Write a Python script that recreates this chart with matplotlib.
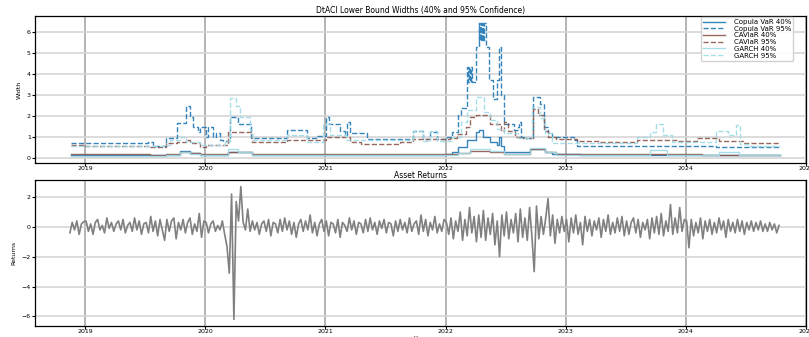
import numpy as np
import pandas as pd
import matplotlib
matplotlib.use('Agg')
import matplotlib.pyplot as plt
import matplotlib.dates as mdates

plt.rcParams['font.family'] = ['DejaVu Sans']

# DtACI lower bound widths (date, width)
copula40_dates = ['2018-11-20', '2019-09-03', '2019-10-16', '2019-11-16', '2019-12-17', '2020-03-10',
                  '2020-05-23', '2022-01-01', '2022-01-22', '2022-02-09', '2022-03-07', '2022-04-05',
                  '2022-04-13', '2022-04-24', '2022-05-17', '2022-06-07', '2022-06-14', '2022-06-18',
                  '2022-06-28', '2022-09-16', '2022-10-31', '2022-11-22', '2023-02-15', '2024-10-15']
copula40_vals = [0.12, 0.15, 0.33, 0.22, 0.15, 0.29, 0.15, 0.18, 0.30, 0.52, 0.84, 1.24,
                 1.32, 1.00, 0.76, 0.60, 1.00, 0.55, 0.30, 0.45, 0.30, 0.18, 0.13, 0.13]

copula95_dates = ['2018-11-20', '2019-07-10', '2019-07-26', '2019-09-03', '2019-10-08', '2019-11-03',
                  '2019-11-16', '2019-11-25', '2019-12-10', '2019-12-17', '2020-01-04', '2020-01-10',
                  '2020-01-25', '2020-02-03', '2020-02-16', '2020-02-24', '2020-03-17', '2020-04-10',
                  '2020-05-20', '2020-09-07', '2020-11-06', '2020-12-04', '2021-01-04', '2021-01-11',
                  '2021-02-15', '2021-02-28', '2021-03-08', '2021-03-17', '2021-05-08', '2021-09-25',
                  '2021-10-26', '2021-11-15', '2021-12-07', '2022-01-07', '2022-01-22', '2022-02-09',
                  '2022-02-18', '2022-03-07', '2022-03-10', '2022-03-13', '2022-03-16', '2022-03-19',
                  '2022-03-22', '2022-04-04', '2022-04-12', '2022-04-14', '2022-04-16', '2022-04-18',
                  '2022-04-20', '2022-04-22', '2022-04-24', '2022-04-26', '2022-04-28', '2022-05-03',
                  '2022-05-12', '2022-05-24', '2022-06-07', '2022-06-14', '2022-06-18', '2022-06-28',
                  '2022-07-27', '2022-08-08', '2022-08-12', '2022-08-17', '2022-08-27', '2022-09-24',
                  '2022-10-16', '2022-10-27', '2022-11-10', '2022-11-22', '2023-01-26', '2023-02-06',
                  '2024-04-01', '2024-10-15']
copula95_vals = [0.72, 0.76, 0.55, 0.97, 1.65, 2.46, 1.95, 1.48, 1.24, 1.48, 1.00, 1.48,
                 1.00, 1.20, 0.87, 0.80, 1.95, 1.64, 0.97, 1.32, 0.95, 1.05, 1.95, 1.60,
                 1.30, 1.10, 1.70, 1.20, 0.92, 1.30, 0.92, 1.25, 0.92, 0.98, 1.25, 2.05,
                 2.40, 4.33, 3.60, 4.33, 3.60, 4.33, 3.60, 5.29, 6.45, 5.60, 6.45, 5.60,
                 6.45, 5.60, 6.45, 5.60, 6.45, 5.29, 3.70, 2.83, 3.70, 5.30, 3.00, 1.64,
                 1.35, 1.48, 1.70, 1.00, 0.95, 2.90, 2.59, 1.48, 1.20, 0.98, 0.85, 0.57,
                 0.53, 0.53]

caviar40_dates = ['2018-11-20', '2019-07-17', '2019-09-03', '2019-10-16', '2019-11-16', '2019-12-17',
                  '2020-03-10', '2020-05-23', '2022-01-01', '2022-02-09', '2022-03-17', '2022-05-17',
                  '2022-06-28', '2022-09-16', '2022-10-31', '2022-12-03', '2023-08-15', '2024-02-20',
                  '2024-10-15']
caviar40_vals = [0.20, 0.15, 0.20, 0.30, 0.25, 0.18, 0.30, 0.18, 0.17, 0.25, 0.35, 0.30,
                 0.20, 0.45, 0.30, 0.18, 0.20, 0.16, 0.16]

caviar95_dates = ['2018-11-20', '2018-12-25', '2019-07-17', '2019-09-03', '2019-10-08', '2019-11-03',
                  '2019-11-16', '2019-12-17', '2020-01-04', '2020-03-10', '2020-05-23', '2020-09-07',
                  '2021-01-04', '2021-03-17', '2021-04-20', '2021-08-16', '2021-09-25', '2022-01-15',
                  '2022-02-06', '2022-03-05', '2022-03-17', '2022-04-05', '2022-05-17', '2022-06-18',
                  '2022-06-28', '2022-07-11', '2022-08-01', '2022-08-17', '2022-09-24', '2022-10-08',
                  '2022-10-27', '2022-11-10', '2022-12-03', '2023-02-06', '2023-04-16', '2023-08-07',
                  '2023-12-05', '2024-02-06', '2024-04-10', '2024-06-24', '2024-10-15']
caviar95_vals = [0.62, 0.55, 0.52, 0.70, 0.76, 0.84, 0.70, 0.52, 0.60, 1.24, 0.76, 0.84,
                 1.00, 0.76, 0.69, 0.77, 0.90, 0.97, 1.16, 1.48, 1.95, 2.03, 1.60, 1.30,
                 1.74, 1.30, 1.00, 0.95, 2.35, 2.03, 1.31, 0.98, 0.90, 0.83, 0.76, 0.85,
                 0.79, 0.97, 0.79, 0.71, 0.71]

garch40_dates = ['2018-11-20', '2019-09-03', '2019-10-16', '2019-11-16', '2019-12-17', '2020-03-10',
                 '2020-04-10', '2020-05-23', '2022-01-01', '2022-02-09', '2022-03-17', '2022-05-17',
                 '2022-06-28', '2022-09-16', '2022-10-31', '2022-12-03', '2023-09-16', '2023-11-06',
                 '2024-04-10', '2024-06-10', '2024-10-15']
garch40_vals = [0.08, 0.12, 0.28, 0.20, 0.12, 0.45, 0.29, 0.12, 0.12, 0.25, 0.45, 0.35,
                0.20, 0.50, 0.30, 0.12, 0.37, 0.15, 0.30, 0.12, 0.12]

garch95_dates = ['2018-11-20', '2019-09-03', '2019-09-16', '2019-10-19', '2019-11-03', '2019-12-17',
                 '2020-03-01', '2020-03-17', '2020-04-05', '2020-04-16', '2020-05-17', '2020-05-23',
                 '2020-09-07', '2020-11-06', '2020-12-24', '2021-01-15', '2021-03-03', '2021-09-25',
                 '2021-10-26', '2021-11-15', '2021-12-07', '2022-01-22', '2022-02-18', '2022-03-07',
                 '2022-04-04', '2022-04-27', '2022-05-17', '2022-06-07', '2022-06-28', '2022-08-08',
                 '2022-09-20', '2022-10-16', '2022-10-31', '2022-11-22', '2023-08-07', '2023-09-16',
                 '2023-10-03', '2023-10-24', '2023-11-22', '2024-04-01', '2024-05-08', '2024-06-03',
                 '2024-06-15', '2024-07-10', '2024-10-15']
garch95_vals = [0.57, 0.62, 0.84, 1.00, 0.76, 0.60, 0.80, 2.88, 2.46, 1.95, 1.32, 0.85,
                1.10, 0.75, 1.64, 1.10, 0.85, 1.30, 0.80, 1.30, 0.80, 1.00, 1.70, 2.30,
                2.90, 2.20, 1.80, 1.40, 1.20, 0.95, 2.43, 1.90, 1.20, 0.70, 1.00, 1.24,
                1.64, 1.10, 0.76, 1.30, 1.10, 1.56, 0.69, 0.56, 0.56]

# weekly asset returns, Nov 2018 - Oct 2024
returns_start = '2018-11-16'
returns_end = '2024-10-11'
returns = [
    # 2018
    -0.4, 0.3, -0.2, 0.4, -0.5, 0.2, 0.35,
    # 2019
    0.4, -0.3, 0.2, -0.5, 0.3, 0.5, -0.2, 0.1, -0.4, 0.6, -0.1, 0.3, -0.3, 0.2, 0.4, -0.2,
    0.5, -0.4, 0.1, 0.3, -0.3, 0.6, -0.2, 0.4, -0.5, 0.2, 0.3, -0.4, 0.7, -0.3, 0.4, -0.6,
    0.5, -0.2, -0.9, 0.5, -0.3, 0.4, 0.6, -0.8, 0.3, -0.2, 0.5, -0.4, 0.3, 0.6, -0.5, 0.2,
    -0.3, 0.9, -0.7, 0.4,
    # 2020
    0.3, -0.4, 0.2, 0.4, -0.3, 0.1, -0.2, 0.4, -0.5, -1.3, -3.1, 2.2, -6.2, 1.7, 0.4, 2.7,
    0.3, -0.2, 1.2, -0.3, 0.4, -0.2, 0.3, -0.5, 0.2, 0.4, -0.3, 0.5, -0.6, 0.3, 0.2, -0.4,
    0.5, -0.3, 0.6, -0.2, 0.4, -0.5, 0.3, -0.7, 0.2, 0.5, -0.3, 0.4, -0.2, 0.8, -0.4, 0.3,
    -0.6, 0.2, 0.5, -0.3,
    # 2021
    0.4, -0.6, 0.3, 0.2, -0.4, 0.5, -0.7, 0.3, 0.1, -0.3, 0.6, -0.2, 0.4, -0.5, 0.3, 0.2,
    -0.4, 0.5, -0.3, 0.6, -0.2, 0.3, -0.5, 0.4, -0.1, 0.5, -0.4, 0.3, 0.2, -0.6, 0.4, -0.3,
    0.5, -0.2, 0.3, -0.4, 0.6, -0.3, 0.2, 0.4, -0.5, 0.8, -0.3, 0.5, -0.6, 0.3, -0.2, 0.7,
    -0.4, 0.2, -0.3, 0.5,
    # 2022
    0.3, -0.5, 0.6, -0.8, 0.4, -0.3, 1.0, -0.9, 0.5, -0.6, 1.3, -0.4, 0.7, -1.0, 0.8, -0.7,
    1.1, -0.9, 0.6, -0.5, 0.9, -1.2, 0.4, -2.0, 0.8, -0.6, 1.0, -0.8, 0.5, -0.4, 0.9, -1.0,
    1.2, -0.7, 0.6, -0.9, 1.3, -0.6, -3.0, 1.4, -0.8, 0.7, -0.5, 0.6, 1.9, -0.6, 0.8, -1.1,
    0.5, -0.4, 0.7, -0.3,
    # 2023
    0.5, -1.0, 0.6, -0.4, 0.8, -0.5, 0.3, -1.2, 0.7, -0.3, 0.5, -0.6, 0.4, -0.2, 0.6, -0.7,
    0.5, -0.3, 0.8, -0.5, 0.3, -0.4, 0.6, -0.3, 0.7, -0.6, 0.4, -0.5, 0.3, 0.6, -0.4, 0.5,
    -0.7, 0.3, -0.2, 0.5, -0.8, 0.6, -0.4, 0.7, -0.5, 0.9, -0.6, 0.4, -0.3, 1.5, -0.5, 0.6,
    -0.4, 1.3, -0.3, 0.5,
    # 2024
    0.4, -1.4, 0.5, -0.6, 0.3, -0.4, 0.6, -0.8, 0.4, -0.3, 0.5, -0.5, 0.3, -0.4, 0.6, -0.2,
    0.4, -0.7, 0.5, -0.3, 0.3, -0.4, 0.5, -0.3, 0.4, -0.5, 0.3, -0.2, 0.4, -0.3, 0.3, -0.2,
    0.4, -0.3, 0.2, -0.3, 0.3, -0.2, 0.2, -0.4, 0.1,
]

series = [
    ('Copula VaR 40%', copula40_dates, copula40_vals, '#1f77b4', '-'),
    ('Copula VaR 95%', copula95_dates, copula95_vals, '#1f77b4', '--'),
    ('CAViaR 40%', caviar40_dates, caviar40_vals, '#8c564b', '-'),
    ('CAViaR 95%', caviar95_dates, caviar95_vals, '#8c564b', '--'),
    ('GARCH 40%', garch40_dates, garch40_vals, '#9edae5', '-'),
    ('GARCH 95%', garch95_dates, garch95_vals, '#9edae5', '--'),
]

fig = plt.figure(figsize=(8.09, 3.37), dpi=100)
ax1 = fig.add_axes([0.0433, 0.5163, 0.9530, 0.4362])
ax2 = fig.add_axes([0.0433, 0.0326, 0.9530, 0.4333])

for name, d, v, c, ls in series:
    ax1.plot(pd.to_datetime(d), v, drawstyle='steps-post', color=c, linestyle=ls,
             linewidth=1.0, alpha=0.9, label=name)

ret_dates = pd.date_range(returns_start, returns_end, periods=len(returns))
ax2.plot(ret_dates, returns, color='gray', linewidth=1.2)

ax1.set_title('DtACI Lower Bound Widths (40% and 95% Confidence)', fontsize=5.5, pad=2)
ax1.set_ylabel('Width', fontsize=4.5, labelpad=4)
ax1.legend(loc='upper left', bbox_to_anchor=(701 / 809, 1 - 17 / 337),
           bbox_transform=fig.transFigure, fontsize=5, labelspacing=0.1,
           handlelength=3.2, handletextpad=1.2, borderpad=0.3, borderaxespad=0,
           framealpha=0.9)

ax2.set_title('Asset Returns', fontsize=5.5, pad=1)
ax2.set_ylabel('Returns', fontsize=4.5, labelpad=4)
ax2.set_xlabel('Year', fontsize=4.5, labelpad=1)

for ax in (ax1, ax2):
    ax.set_xlim(pd.Timestamp('2018-08-02'), pd.Timestamp('2025-01-01'))
    ax.xaxis.set_major_locator(mdates.YearLocator())
    ax.xaxis.set_major_formatter(mdates.DateFormatter('%Y'))
    ax.xaxis.grid(True, color='#a8a8a8', linewidth=1.2)
    ax.yaxis.grid(True, color='#d6d6d6', linewidth=1.2)
    ax.set_axisbelow(True)
    ax.tick_params(labelsize=4.5, length=2, width=0.8, pad=1)
    ax.tick_params(axis='x', pad=0.5)
    for s in ax.spines.values():
        s.set_linewidth(0.9)

fig.savefig('out.png', dpi=100)
